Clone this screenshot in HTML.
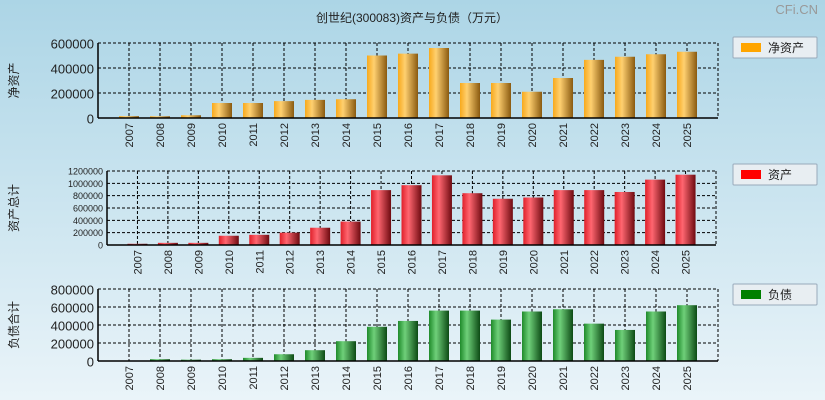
<!DOCTYPE html>
<html><head><meta charset="utf-8">
<style>
body{margin:0;width:825px;height:400px;overflow:hidden;background:linear-gradient(#acd5e6,#eaf4f9);font-family:"Liberation Sans","Noto Sans CJK SC",sans-serif;}
svg{display:block}
</style></head>
<body>
<svg id="c" width="825" height="400" xmlns="http://www.w3.org/2000/svg">
<defs>
<linearGradient id="gOrange" x1="0" x2="1"><stop offset="0" stop-color="#f7a91c"/><stop offset="0.35" stop-color="#ffd070"/><stop offset="1" stop-color="#8a5a10"/></linearGradient>
<linearGradient id="gRed" x1="0" x2="1"><stop offset="0" stop-color="#e0202a"/><stop offset="0.35" stop-color="#ff6670"/><stop offset="1" stop-color="#6e0a10"/></linearGradient>
<linearGradient id="gGreen" x1="0" x2="1"><stop offset="0" stop-color="#1e8a2a"/><stop offset="0.35" stop-color="#6fd07a"/><stop offset="1" stop-color="#0c4a14"/></linearGradient>
</defs>
<text x="412" y="22" font-size="12" text-anchor="middle" fill="#222">创世纪(300083)资产与负债（万元）</text>
<text x="818" y="14" font-size="13" text-anchor="end" fill="#999">CFi.CN</text>
</svg>
<script>
const years=["2007","2008","2009","2010","2011","2012","2013","2014","2015","2016","2017","2018","2019","2020","2021","2022","2023","2024","2025"];
const netAssets=[15000,14000,22000,120000,120000,135000,145000,150000,500000,515000,560000,280000,280000,210000,320000,465000,490000,510000,530000];
const totalAssets=[20000,35000,35000,150000,165000,200000,280000,380000,890000,970000,1130000,840000,750000,770000,890000,890000,860000,1060000,1140000];
const liabilities=[5000,20000,15000,20000,35000,75000,120000,220000,380000,445000,560000,560000,460000,550000,575000,415000,345000,550000,620000];
const ticks1=[0,200000,400000,600000];
const ticks2=[0,200000,400000,600000,800000,1000000,1200000];
const ticks3=[0,200000,400000,600000,800000];
const NS="http://www.w3.org/2000/svg";
const svg=document.getElementById('c');
function mk(tag,attrs,parent){const e=document.createElementNS(NS,tag);for(const k in attrs)e.setAttribute(k,attrs[k]);(parent||svg).appendChild(e);return e;}
function panel(o){
  const g=mk('g',{});
  
  
  const L=o.left,R=o.right,T=o.top,B=o.bottom,max=o.ticks[o.ticks.length-1];
  const step=(R-L)/20;
  const xs=i=>L+step*(i+1);
  const ys=v=>B-(v/max)*(B-T);
  // grid
  o.ticks.forEach(t=>{const l=mk('line',{x1:L,x2:R,y1:ys(t),y2:ys(t),stroke:'#000','stroke-dasharray':'3,2','stroke-width':1},g);
    const tx=mk('text',{x:L-4,y:ys(t)+o.fs/2-1,'font-size':o.fs,'text-anchor':'end',fill:'#222'},g);tx.textContent=t;
    
    });
  years.forEach((y,i)=>{mk('line',{x1:xs(i),x2:xs(i),y1:T,y2:B,stroke:'#000','stroke-dasharray':'3,2'},g);});
  mk('line',{x1:R,x2:R,y1:T,y2:B,stroke:'#000','stroke-dasharray':'3,2'},g);
  // bars
  o.data.forEach((v,i)=>{const y=ys(v);
    const r=mk('rect',{x:xs(i)-10,y:y,width:20,height:B-y,fill:o.fill},g);
    
    });
  mk('line',{x1:L,x2:L,y1:T,y2:B,stroke:'#000','stroke-width':1.5},g);
  mk('line',{x1:L,x2:R,y1:B,y2:B,stroke:'#000','stroke-width':1.5},g);
  years.forEach((y,i)=>{const t=mk('text',{x:0,y:0,'font-size':11,fill:'#222','text-anchor':'end',transform:`translate(${xs(i)+4},${B+5}) rotate(-90)`},g);t.textContent=y;
    
    });
  const yt=mk('text',{x:0,y:0,'font-size':12,fill:'#222','text-anchor':'middle',transform:`translate(${o.titleX},${(T+B)/2}) rotate(-90)`},g);yt.textContent=o.title;
  
  
  // legend
  const lg=mk('g',{},g);
  
  
  mk('rect',{x:733,y:o.legY,width:84,height:21,fill:'#e8eef2',stroke:'#9ab',rx:1},lg);
  mk('rect',{x:741,y:o.legY+6,width:20,height:9,fill:o.legColor},lg);
  const lt=mk('text',{x:768,y:o.legY+15,'font-size':12,fill:'#222'},lg);lt.textContent=o.title==='资产总计'?'资产':o.legText;
}
panel({name:'net-assets-panel',left:98,right:718,top:43,bottom:118,ticks:ticks1,data:netAssets,fill:'url(#gOrange)',fs:13,title:'净资产',titleX:18,legY:37,legColor:'#ffa500',legText:'净资产'});
panel({name:'total-assets-panel',left:107,right:716,top:171,bottom:245,ticks:ticks2,data:totalAssets,fill:'url(#gRed)',fs:9,title:'资产总计',titleX:18,legY:164,legColor:'#ff0000',legText:'资产'});
panel({name:'liabilities-panel',left:98,right:718,top:289,bottom:361,ticks:ticks3,data:liabilities,fill:'url(#gGreen)',fs:13,title:'负债合计',titleX:18,legY:284,legColor:'#008000',legText:'负债'});
</script>
</body></html>
